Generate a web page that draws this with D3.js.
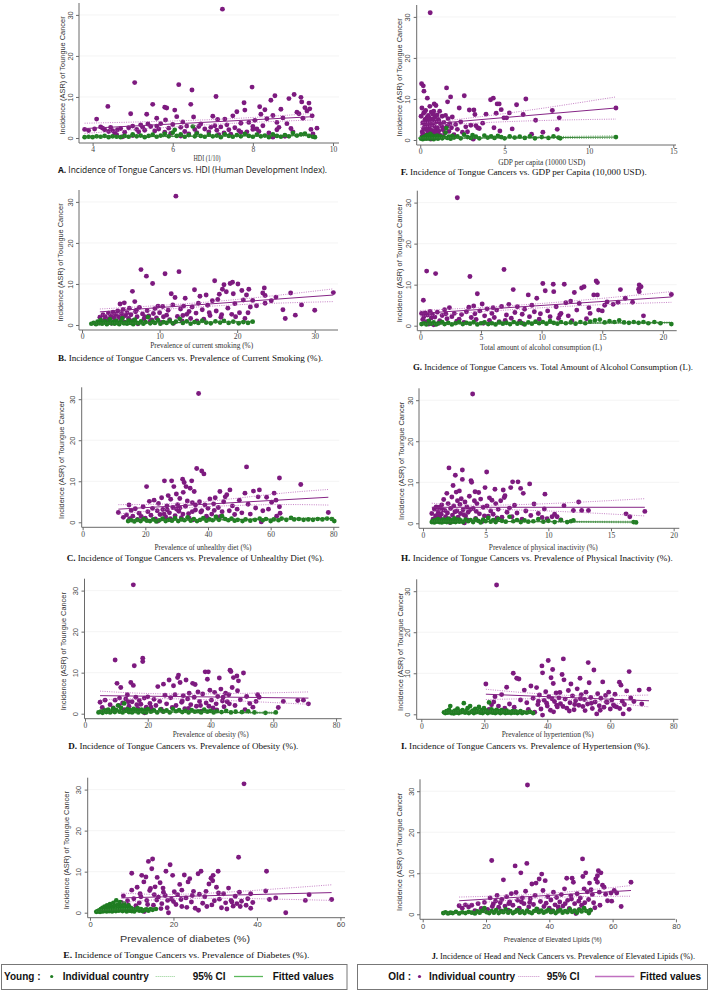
<!DOCTYPE html>
<html><head><meta charset="utf-8">
<script src="https://cdn.jsdelivr.net/npm/d3@7"></script>
<style>body{margin:0;background:#fff}</style>
</head><body>
<svg id="c" width="709" height="992"></svg>
<script>
// ---------------- DATA ----------------
const yTicks = [0, 10, 20, 30];
const ticksA = [4, 6, 8, 10], ticksF = [0, 5, 10, 15], ticksB = [0, 10, 20, 30], ticksG = [0, 5, 10, 15, 20];
const ticksC = [0, 20, 40, 60, 80], ticksH = [0, 5, 10, 15, 20], ticksD = [0, 20, 40, 60, 80], ticksI = [0, 20, 40, 60, 80];
const ticksE = [0, 20, 40, 60], ticksJ = [0, 20, 40, 60, 80];

const oldA = [[3.8,2.1],[3.9,1.8],[4.05,2.2],[4.1,4.6],[4.2,2.7],[4.25,2.4],[4.3,2.0],[4.38,7.7],[4.4,1.6],[4.45,2.6],[4.55,1.2],[4.6,0.8],[4.62,2.0],[4.7,2.3],[4.75,0.3],[4.8,1.4],[4.9,2.5],[4.95,5.9],[5.0,2.9],[5.05,13.5],[5.1,2.1],[5.15,1.5],[5.2,3.2],[5.25,2.6],[5.3,1.9],[5.35,5.8],[5.38,3.4],[5.45,2.8],[5.5,8.2],[5.55,1.7],[5.6,4.8],[5.65,2.2],[5.7,3.5],[5.8,7.5],[5.82,4.4],[5.85,7.3],[5.9,2.4],[5.95,1.1],[6.0,3.3],[6.05,6.8],[6.1,5.2],[6.15,13.0],[6.2,2.6],[6.25,3.9],[6.3,1.6],[6.35,2.9],[6.45,8.2],[6.48,11.7],[6.52,5.1],[6.55,2.1],[6.6,1.3],[6.7,3.4],[6.8,2.2],[6.9,1.5],[7.0,5.3],[7.05,3.0],[7.08,10.1],[7.1,1.9],[7.12,4.5],[7.2,2.7],[7.24,31.4],[7.28,1.2],[7.3,4.6],[7.35,3.2],[7.4,2.0],[7.5,5.4],[7.55,2.5],[7.6,6.4],[7.65,1.8],[7.7,3.6],[7.78,8.6],[7.8,6.8],[7.85,1.5],[7.9,3.8],[7.98,12.4],[8.0,2.8],[8.05,4.3],[8.1,2.2],[8.17,7.6],[8.2,5.8],[8.25,3.0],[8.3,6.9],[8.35,4.7],[8.4,1.2],[8.45,9.2],[8.5,5.5],[8.55,10.3],[8.6,3.8],[8.65,2.6],[8.7,7.0],[8.75,4.9],[8.8,0.4],[8.85,3.5],[8.9,9.6],[8.95,2.3],[9.03,10.6],[9.1,6.3],[9.15,5.9],[9.2,9.9],[9.22,8.8],[9.25,4.8],[9.3,7.4],[9.35,6.6],[9.4,8.5],[9.42,7.1],[9.45,2.1],[9.48,5.4],[9.5,1.0],[9.6,2.4],[4.5,1.8],[5.6,2.9],[5.8,1.4],[6.4,1.0],[6.65,2.8],[6.95,2.6],[7.45,0.9],[7.7,1.4],[8.0,2.1],[8.15,1.6],[8.6,2.0],[9.0,1.5],[5.0,0.6],[6.2,0.5],[7.15,0.8],[8.5,0.2]];
const youngA = [[3.8,0.2],[3.9,0.3],[4.0,0.2],[4.1,0.4],[4.2,0.3],[4.3,0.5],[4.4,0.2],[4.5,0.4],[4.6,0.3],[4.7,0.2],[4.8,0.5],[4.9,0.3],[5.0,0.9],[5.1,0.4],[5.2,0.6],[5.3,0.2],[5.4,0.5],[5.5,0.8],[5.6,0.3],[5.7,0.6],[5.8,1.0],[5.9,0.4],[6.0,1.3],[6.05,2.0],[6.1,0.5],[6.2,0.9],[6.3,0.3],[6.4,0.7],[6.5,2.8],[6.55,0.4],[6.6,1.1],[6.7,0.5],[6.8,0.3],[6.9,0.8],[7.0,0.4],[7.1,0.6],[7.2,0.2],[7.3,0.9],[7.4,0.5],[7.5,0.3],[7.6,0.7],[7.7,0.4],[7.8,1.0],[7.9,0.5],[8.0,0.3],[8.1,0.8],[8.2,0.4],[8.3,0.6],[8.4,0.2],[8.5,0.9],[8.6,0.5],[8.7,0.3],[8.8,0.7],[8.9,0.4],[9.0,1.2],[9.1,0.6],[9.2,0.9],[9.3,1.1],[9.4,0.5],[9.5,0.3],[9.55,0.2]];
const fitOldA = [[3.8,2.3,1.1,3.6],[7.0,3.9,3.3,4.5],[9.5,5.2,4.4,6.0]];
const fitYoungA = [[3.8,0.3,0.1,0.5],[7.0,0.5,0.4,0.6],[9.5,0.6,0.45,0.8]];

const oldF = [[0.05,5.8],[0.08,13.7],[0.1,7.8],[0.12,2.0],[0.15,4.2],[0.18,13.2],[0.2,6.5],[0.22,11.9],[0.25,3.1],[0.28,5.0],[0.3,1.2],[0.32,7.2],[0.35,2.6],[0.38,4.6],[0.4,0.5],[0.42,10.2],[0.45,3.5],[0.48,6.0],[0.5,1.8],[0.52,5.4],[0.55,2.9],[0.57,8.2],[0.59,31.0],[0.6,4.0],[0.62,0.2],[0.65,6.8],[0.68,2.3],[0.7,5.1],[0.72,3.7],[0.75,1.5],[0.78,4.8],[0.8,7.0],[0.82,2.0],[0.83,8.8],[0.85,3.3],[0.88,5.6],[0.9,1.0],[0.93,8.4],[0.95,4.4],[0.98,2.7],[1.0,6.1],[1.02,3.0],[1.05,1.4],[1.08,5.0],[1.1,2.2],[1.15,7.0],[1.2,3.9],[1.25,0.8],[1.3,5.8],[1.35,2.5],[1.4,4.3],[1.45,1.7],[1.5,6.0],[1.56,12.7],[1.6,3.4],[1.62,9.3],[1.65,5.2],[1.7,2.1],[1.75,4.0],[1.8,10.5],[1.85,3.0],[1.9,5.6],[2.0,1.3],[2.1,3.8],[2.2,2.6],[2.31,7.8],[2.4,4.4],[2.5,1.9],[2.61,10.8],[2.7,3.2],[2.8,2.0],[2.91,7.3],[3.0,3.6],[3.14,0.2],[3.18,7.3],[3.24,6.2],[3.3,3.5],[3.4,3.0],[3.5,2.8],[3.7,4.1],[3.9,6.3],[4.17,9.8],[4.33,10.2],[4.37,3.0],[4.5,6.5],[4.56,8.8],[4.68,8.8],[4.72,2.2],[4.8,7.4],[4.96,5.4],[5.12,5.4],[5.28,6.6],[5.45,2.7],[5.71,8.6],[6.1,6.2],[6.26,10.0],[6.6,1.4],[6.84,4.8],[7.27,1.9],[7.83,7.2],[8.12,2.6],[8.24,5.4],[11.6,7.8],[0.1,0.8],[0.2,2.8],[0.3,3.9],[0.4,5.5],[0.5,4.6],[0.6,2.4],[0.7,1.2],[0.15,1.6],[0.25,6.8],[0.35,3.0],[0.45,2.1],[0.55,4.9],[0.65,3.8],[0.75,6.3],[0.85,2.2],[0.95,1.8],[1.1,4.6],[1.2,1.1],[1.3,3.2],[1.4,2.8]];
const youngF = [[0.05,0.3],[0.1,0.5],[0.15,0.2],[0.2,0.7],[0.25,0.4],[0.3,0.9],[0.35,0.3],[0.4,1.2],[0.45,0.5],[0.5,0.8],[0.55,0.3],[0.6,1.5],[0.65,0.6],[0.7,0.4],[0.75,1.0],[0.8,0.2],[0.85,0.7],[0.9,0.5],[1.0,1.1],[1.05,0.3],[1.1,0.6],[1.2,0.9],[1.3,0.4],[1.4,0.7],[1.5,1.8],[1.55,2.9],[1.6,0.5],[1.7,0.8],[1.8,0.3],[1.9,1.0],[2.0,0.6],[2.2,0.9],[2.4,0.4],[2.6,1.3],[2.8,0.7],[3.0,0.5],[3.1,1.2],[3.3,0.8],[3.5,0.4],[3.8,1.1],[4.0,0.6],[4.2,0.9],[4.4,0.5],[4.6,1.0],[4.8,0.7],[5.0,0.4],[5.3,0.9],[5.6,0.6],[5.9,0.8],[6.2,0.5],[6.5,0.9],[6.8,0.4],[7.2,0.7],[7.6,0.5],[7.9,0.9],[8.2,0.6],[8.3,0.4],[11.6,0.7]];
const fitOldF = [[0,3.7,3.1,4.3],[1.5,4.2,3.7,4.7],[6,5.8,4.6,7.0],[11.6,7.8,5.1,10.5]];
const fitYoungF = [[0,0.4,0.3,0.6],[1.5,0.5,0.4,0.6],[11.6,0.7,0.4,1.0]];

const oldB = [[2.3,1.9],[2.5,0.5],[2.7,2.5],[2.9,1.2],[3.0,2.0],[3.2,0.8],[3.4,2.9],[3.5,1.5],[3.7,2.2],[3.8,0.4],[4.0,3.1],[4.1,1.8],[4.3,2.6],[4.4,1.0],[4.6,3.4],[4.7,2.0],[4.9,5.1],[5.0,1.4],[5.1,2.8],[5.3,3.8],[5.45,5.4],[5.5,0.7],[5.6,2.3],[5.8,3.0],[6.0,1.6],[6.1,4.1],[6.3,2.5],[6.5,8.2],[6.6,1.1],[6.8,5.7],[6.9,3.2],[7.1,2.0],[7.2,0.3],[7.4,4.3],[7.6,13.5],[7.8,2.7],[8.0,1.5],[8.3,11.9],[8.4,3.5],[8.6,2.2],[8.8,0.9],[9.1,10.1],[9.2,2.8],[9.4,4.0],[9.6,1.7],[9.8,4.6],[10.0,3.0],[10.2,0.6],[10.4,4.5],[10.7,12.5],[10.9,2.4],[11.1,3.6],[11.3,1.3],[11.5,7.6],[11.7,4.9],[11.99,6.7],[12.1,31.4],[12.3,2.1],[12.5,13.0],[12.7,3.9],[12.9,1.0],[13.1,4.6],[13.3,6.5],[13.5,2.6],[13.8,3.3],[14.0,1.6],[14.2,4.4],[14.5,8.6],[14.7,2.9],[15.0,5.3],[15.2,7.0],[15.5,3.7],[15.7,1.4],[16.0,7.3],[16.2,4.8],[16.5,2.3],[16.8,5.9],[17.1,10.8],[17.3,3.4],[17.5,6.2],[17.7,7.5],[17.9,1.9],[18.1,8.7],[18.3,9.8],[18.6,8.1],[18.8,4.1],[19.1,10.1],[19.3,2.6],[19.4,10.4],[19.5,7.6],[19.7,5.2],[20.1,10.0],[20.3,3.0],[20.6,8.4],[20.8,6.1],[21.0,1.6],[21.2,7.3],[21.5,8.7],[21.7,4.4],[22.0,6.0],[22.5,4.7],[23.3,7.8],[23.5,9.0],[23.6,7.2],[23.6,5.3],[24.4,5.9],[25.0,6.8],[25.9,3.7],[26.2,1.6],[26.9,7.8],[27.5,2.4],[28.3,4.9],[30.0,3.6],[32.4,7.9],[4.2,0.9],[5.2,1.9],[6.2,0.9],[7.0,3.6],[8.1,2.0],[9.0,1.2],[10.5,2.0],[11.8,0.4],[13.0,2.3],[14.8,1.0],[16.4,3.0],[18.0,2.5],[19.8,2.0],[21.4,3.0]];
const youngB = [[1.2,0.3],[1.5,0.5],[1.8,0.2],[2.0,0.8],[2.2,0.4],[2.4,1.2],[2.6,0.3],[2.8,0.6],[3.0,0.9],[3.2,0.2],[3.4,0.5],[3.6,1.4],[3.8,0.4],[4.0,0.7],[4.2,0.3],[4.4,1.0],[4.6,0.5],[4.8,0.2],[5.0,0.8],[5.2,1.6],[5.4,0.4],[5.6,0.6],[5.8,0.3],[6.0,1.1],[6.2,0.5],[6.4,0.8],[6.6,0.2],[6.8,1.3],[7.0,0.6],[7.3,0.4],[7.6,0.9],[7.9,0.3],[8.2,0.7],[8.5,1.9],[8.8,0.4],[9.1,0.8],[9.4,0.5],[9.8,1.2],[10.1,0.3],[10.5,0.7],[10.9,0.5],[11.3,1.0],[11.7,0.4],[12.1,0.8],[12.6,1.5],[13.0,0.5],[13.5,0.9],[14.0,0.3],[14.5,0.7],[15.0,0.5],[15.5,1.1],[16.0,0.6],[16.6,0.4],[17.2,0.9],[17.8,0.6],[18.3,1.0],[18.9,0.5],[19.5,0.8],[20.2,0.4],[20.8,0.7],[21.4,0.5],[22.0,0.8]];
const fitOldB = [[2.3,3.2,2.4,3.9],[12,4.5,4.0,5.0],[22,5.9,5.1,6.6],[32.4,7.3,5.7,8.8]];
const fitYoungB = [[1.2,0.35,0.2,0.5],[10,0.5,0.45,0.6],[22,0.8,0.65,0.95]];

const oldG = [[0.1,3.0],[0.2,1.5],[0.25,6.2],[0.3,2.2],[0.4,3.1],[0.5,1.0],[0.52,13.3],[0.6,2.6],[0.7,0.4],[0.8,3.5],[0.9,1.9],[1.0,2.8],[1.1,0.2],[1.2,2.1],[1.26,12.7],[1.4,3.3],[1.6,1.2],[1.8,2.5],[2.0,3.9],[2.2,1.7],[2.4,4.4],[2.6,2.2],[2.8,3.0],[3.05,31.2],[3.2,1.6],[3.4,2.7],[3.6,0.8],[3.8,3.4],[4.0,4.5],[4.09,12.0],[4.2,2.0],[4.4,4.8],[4.6,1.5],[4.7,7.8],[4.9,3.6],[5.1,5.3],[5.3,2.4],[5.5,4.1],[5.7,1.3],[5.9,3.0],[6.1,2.0],[6.3,3.8],[6.5,1.0],[6.7,4.7],[6.9,13.7],[7.1,2.6],[7.3,5.2],[7.5,1.8],[7.66,8.8],[7.8,3.2],[8.0,4.6],[8.2,1.1],[8.4,2.8],[8.6,4.0],[8.9,7.5],[9.0,2.2],[9.2,5.0],[9.4,3.4],[9.6,6.7],[9.8,1.6],[10.1,10.3],[10.3,8.5],[10.5,3.6],[10.7,2.2],[10.96,10.1],[11.0,8.3],[11.2,4.6],[11.4,1.8],[11.6,3.0],[11.87,10.1],[12.0,5.6],[12.2,2.4],[12.4,6.0],[12.7,8.1],[12.9,3.8],[13.1,5.4],[13.3,9.2],[13.5,9.5],[13.7,1.7],[14.0,3.0],[14.3,7.5],[14.5,10.9],[14.6,10.5],[14.6,7.5],[14.7,3.8],[15.0,3.6],[15.2,5.0],[15.4,5.8],[15.9,5.2],[16.3,5.7],[16.5,8.8],[16.9,6.7],[17.5,5.7],[18.0,8.9],[18.05,9.9],[18.2,9.5],[18.05,8.3],[18.4,2.4],[20.7,7.6],[1.5,0.6],[2.1,2.9],[3.0,1.1],[4.5,2.9],[5.2,0.6],[6.0,4.4],[7.0,1.3],[8.5,0.5],[9.9,2.9],[11.5,2.6],[12.5,1.2],[13.9,4.4]];
const youngG = [[0.1,0.4],[0.3,0.6],[0.5,0.3],[0.7,1.2],[0.9,0.5],[1.1,0.8],[1.3,0.3],[1.5,0.6],[1.8,0.9],[2.0,0.4],[2.3,0.7],[2.6,0.3],[2.9,0.6],[3.2,0.9],[3.5,0.4],[3.8,0.7],[4.1,0.5],[4.4,0.9],[4.7,0.3],[5.0,0.6],[5.3,0.8],[5.6,0.4],[5.9,0.6],[6.2,0.3],[6.5,0.8],[6.8,0.5],[7.1,0.7],[7.4,0.4],[7.7,0.9],[8.0,0.5],[8.3,0.7],[8.6,0.3],[8.9,0.8],[9.2,0.5],[9.5,1.0],[9.8,0.6],[10.1,0.9],[10.4,0.5],[10.7,1.1],[11.0,0.7],[11.3,0.5],[11.6,0.9],[12.0,0.6],[12.4,0.8],[12.8,0.5],[13.2,0.9],[13.6,0.6],[14.0,1.0],[14.4,1.3],[14.8,1.5],[15.2,0.8],[15.6,1.1],[16.0,0.9],[16.4,1.3],[16.8,0.8],[17.2,0.7],[17.6,0.9],[18.0,0.7],[18.4,0.9],[18.8,0.6],[19.3,0.9],[19.8,0.6],[20.7,0.4]];
const fitOldG = [[0,3.0,2.3,3.7],[7,4.3,3.8,4.8],[14,5.7,5.0,6.4],[20.7,7.0,5.7,8.3]];
const fitYoungG = [[0,0.4,0.3,0.5],[10,0.6,0.55,0.65],[20.7,0.75,0.6,0.9]];

const oldC = [[11.4,2.4],[13.0,1.2],[14.0,1.8],[14.8,4.2],[15.0,0.9],[15.5,2.9],[16.0,1.5],[16.8,3.3],[17.5,0.7],[18.0,2.2],[18.7,1.4],[19.3,3.8],[20.0,1.0],[20.4,8.7],[20.8,2.6],[21.3,5.1],[21.8,1.7],[22.3,3.4],[22.8,5.4],[23.2,0.8],[23.8,2.8],[24.2,4.6],[24.7,1.9],[25.2,6.0],[25.6,3.1],[26.1,10.1],[26.5,1.3],[26.9,4.0],[27.3,6.5],[27.7,2.3],[28.1,5.6],[28.4,10.1],[28.8,3.6],[29.1,8.7],[29.5,1.6],[29.9,6.9],[30.3,4.3],[30.7,2.7],[31.0,5.8],[31.5,1.1],[31.9,10.5],[32.1,7.3],[32.4,9.7],[32.8,3.9],[33.0,8.7],[33.4,5.2],[33.8,2.1],[34.3,8.3],[34.8,10.1],[35.0,4.8],[35.3,0.6],[35.6,7.5],[36.0,3.0],[36.4,13.1],[37.0,31.4],[37.3,5.0],[37.7,2.5],[38.0,12.5],[38.7,11.8],[39.0,4.2],[39.5,1.5],[40.0,3.4],[40.6,5.7],[41.2,2.0],[41.8,4.5],[42.3,6.0],[42.8,1.3],[43.3,3.6],[43.8,7.5],[44.5,2.6],[45.0,5.0],[45.5,6.2],[46.0,6.7],[46.8,2.8],[47.0,7.9],[47.8,4.0],[48.5,1.9],[49.3,3.2],[50.0,5.4],[50.8,2.3],[51.8,7.1],[52.3,13.5],[52.8,4.4],[53.5,2.0],[54.5,7.6],[55.2,3.5],[56.0,6.2],[56.4,7.9],[57.0,0.1],[57.5,2.8],[58.7,6.1],[59.3,3.2],[60.3,4.9],[61.1,7.1],[61.7,5.4],[61.9,1.5],[62.8,3.8],[62.8,10.8],[63.0,2.2],[69.6,9.2],[78.4,2.4],[24.0,0.3],[26.0,2.0],[28.0,0.9],[30.0,3.2],[32.0,2.0],[34.0,1.0],[36.0,4.2],[38.0,2.8],[40.0,0.9],[42.0,2.9],[44.0,1.4],[27.0,3.0],[31.0,3.5],[35.0,2.6]];
const youngC = [[14.5,0.3],[15.5,0.5],[16.5,0.2],[17.5,0.6],[18.5,0.3],[19.5,0.8],[20.5,0.4],[21.5,0.3],[22.5,0.7],[23.5,0.2],[24.5,0.5],[25.5,0.9],[26.5,0.3],[27.5,0.6],[28.5,0.4],[29.5,1.0],[30.5,0.3],[31.5,0.7],[32.5,0.5],[33.5,1.2],[34.5,0.4],[35.5,0.8],[36.5,0.3],[37.5,0.6],[38.5,1.0],[39.5,0.4],[40.5,0.7],[41.5,0.5],[42.5,1.3],[43.5,0.6],[44.5,1.5],[45.5,0.8],[46.5,0.5],[47.5,0.9],[48.5,0.4],[49.5,0.6],[51.0,0.3],[52.0,0.7],[53.5,0.4],[55.0,0.6],[56.5,0.9],[57.5,0.5],[58.5,0.8],[60.0,0.3],[61.0,0.7],[62.5,0.5],[63.5,0.9],[65.0,0.6],[66.5,1.1],[67.5,0.7],[69.0,0.8],[70.5,0.6],[72.0,0.7],[73.5,0.6],[75.0,0.8],[76.5,0.7],[78.0,0.9],[79.5,0.8],[80.3,0.3]];
const fitOldC = [[11.4,3.2,2.0,4.3],[35,4.2,3.6,4.8],[60,5.3,4.3,6.8],[78.4,6.1,4.2,8.0]];
const fitYoungC = [[14.5,0.35,0.2,0.5],[40,0.6,0.5,0.7],[80.3,0.95,0.7,1.2]];

const oldH = [[0.7,2.4],[0.8,1.0],[0.9,3.5],[1.0,1.8],[1.05,4.0],[1.1,0.6],[1.2,2.9],[1.3,3.9],[1.35,1.4],[1.45,2.2],[1.5,4.5],[1.6,0.8],[1.65,5.8],[1.75,3.1],[1.8,1.6],[1.9,7.3],[1.95,2.5],[2.0,4.8],[2.07,13.5],[2.1,1.1],[2.2,3.6],[2.3,6.4],[2.35,2.0],[2.4,9.2],[2.45,4.2],[2.5,0.5],[2.58,11.7],[2.65,7.6],[2.7,3.0],[2.75,5.5],[2.8,1.5],[2.9,7.9],[2.95,4.6],[3.0,2.4],[3.05,6.0],[3.14,13.0],[3.14,10.7],[3.2,3.3],[3.3,0.1],[3.35,5.2],[3.4,1.8],[3.5,4.0],[3.6,2.7],[3.7,6.6],[3.83,10.4],[3.88,10.0],[3.96,31.5],[4.0,3.6],[4.1,5.5],[4.15,7.7],[4.2,1.2],[4.3,4.8],[4.44,7.5],[4.5,2.3],[4.6,5.9],[4.7,0.4],[4.8,3.9],[4.95,8.7],[5.08,12.5],[5.1,4.2],[5.2,1.7],[5.3,6.2],[5.4,3.0],[5.5,5.6],[5.6,2.2],[5.74,8.3],[5.8,4.8],[5.9,1.3],[6.0,3.4],[6.2,5.5],[6.4,8.1],[6.48,6.3],[6.54,6.7],[6.7,2.7],[6.9,3.7],[7.0,8.7],[7.1,1.6],[7.15,10.1],[7.3,4.4],[7.5,2.5],[7.58,10.1],[7.79,8.5],[7.9,1.0],[8.0,7.3],[8.2,3.0],[8.51,9.6],[8.6,1.9],[8.86,4.7],[9.2,2.4],[9.5,1.4],[9.68,3.5],[9.73,7.1],[9.9,1.1],[10.3,1.6],[10.5,2.2],[10.7,1.6],[11.0,0.8],[11.25,4.3],[12.0,3.1],[12.42,5.2],[12.66,3.1],[13.2,3.1],[16.2,2.3],[16.5,1.6],[17.7,2.9],[1.15,2.0],[1.55,3.3],[2.15,0.2],[2.55,2.8],[2.85,0.9],[3.25,2.1],[3.55,0.8],[3.75,3.3],[4.25,2.9],[4.9,1.8],[5.7,0.7],[6.3,1.5]];
const youngH = [[0.7,0.3],[0.8,0.6],[0.9,0.2],[1.0,0.8],[1.1,0.4],[1.2,1.0],[1.3,0.3],[1.4,0.6],[1.5,0.2],[1.6,0.9],[1.7,0.4],[1.8,0.7],[1.9,0.3],[2.0,1.1],[2.1,0.5],[2.2,0.2],[2.3,0.8],[2.4,0.4],[2.5,1.2],[2.6,0.3],[2.7,0.6],[2.8,0.9],[2.9,0.4],[3.0,0.7],[3.2,0.3],[3.4,0.9],[3.6,0.5],[3.8,0.8],[4.0,0.3],[4.2,1.0],[4.4,0.6],[4.6,0.2],[4.8,0.9],[5.0,0.5],[5.2,1.3],[5.4,0.4],[5.6,0.8],[5.8,0.3],[6.0,1.1],[6.3,0.6],[6.6,0.4],[6.9,1.6],[7.2,0.5],[7.5,0.8],[7.8,0.3],[8.1,0.7],[8.4,0.4],[8.8,0.5],[9.2,1.0],[9.6,0.4],[10.0,0.6],[10.5,0.3],[11.0,0.8],[11.5,0.3],[11.8,0.5],[12.0,0.7],[16.8,0.3],[17.0,0.2]];
const fitOldH = [[0.7,3.9,2.9,4.9],[4,3.9,3.4,4.4],[10,3.9,3.0,4.8],[17.7,3.9,1.8,6.0]];
const fitYoungH = [[0.7,0.5,0.4,0.6],[5,0.45,0.4,0.5],[17,0.3,0.1,0.5]];

const oldD = [[4.8,2.8],[5.5,1.5],[6.4,3.3],[7.0,0.8],[8.0,2.2],[9.0,1.4],[9.6,13.1],[9.6,3.3],[10.2,7.4],[10.8,2.0],[11.4,6.4],[12.0,2.6],[12.5,1.0],[13.0,3.6],[13.5,4.6],[14.0,1.8],[14.6,7.6],[15.0,2.9],[15.4,31.4],[15.4,6.9],[15.7,11.7],[16.2,4.0],[16.8,1.3],[17.3,3.2],[17.8,2.3],[18.4,13.5],[18.4,12.7],[18.9,3.8],[19.5,1.6],[20.0,4.1],[20.7,2.5],[21.4,0.9],[22.0,3.5],[22.6,2.0],[23.2,6.6],[23.8,3.0],[24.3,1.1],[25.0,7.2],[25.5,4.5],[26.0,2.4],[26.8,8.2],[27.3,3.9],[27.8,1.5],[28.2,6.8],[28.7,4.6],[29.5,8.8],[29.8,9.4],[30.3,7.6],[30.8,2.8],[31.3,4.4],[31.8,1.2],[32.2,8.2],[32.7,3.6],[33.2,5.0],[33.7,2.2],[34.3,7.4],[34.8,4.0],[35.1,7.1],[35.5,1.8],[36.0,5.3],[36.5,3.0],[37.0,0.6],[37.5,4.8],[38.3,10.2],[38.6,2.6],[39.0,8.4],[39.3,10.2],[39.8,5.7],[40.3,3.3],[40.8,1.4],[41.3,5.2],[41.8,2.4],[42.3,4.2],[42.8,8.7],[43.3,6.0],[43.8,3.1],[44.3,1.7],[44.8,5.0],[45.3,2.9],[45.8,4.6],[46.2,10.6],[46.5,10.3],[46.9,6.4],[47.3,8.8],[47.8,2.0],[48.4,9.2],[48.6,5.6],[48.9,8.0],[49.5,3.4],[50.5,9.9],[51.0,1.0],[51.5,4.2],[52.5,2.5],[53.5,1.6],[54.5,3.0],[55.0,4.6],[55.5,4.0],[61.6,1.5],[63.2,3.0],[67.8,3.2],[69.6,3.3],[71.2,2.4],[11.0,3.8],[13.8,2.9],[16.5,2.2],[19.0,0.2],[21.0,1.6],[24.8,0.6],[29.0,2.0],[31.0,3.1],[33.0,1.3],[36.8,2.0],[39.5,1.8],[42.0,0.9],[44.0,4.0],[46.0,2.4]];
const youngD = [[4.3,0.3],[5.0,0.5],[5.6,0.2],[6.2,0.8],[6.8,0.4],[7.4,1.0],[8.0,0.3],[8.5,0.6],[9.0,1.3],[9.5,0.4],[10.0,0.9],[10.5,2.0],[11.0,0.5],[11.5,1.4],[12.0,0.3],[12.5,2.5],[13.0,0.7],[13.5,1.1],[14.0,0.4],[14.5,0.9],[15.0,0.3],[15.5,1.2],[16.0,0.6],[16.5,0.9],[17.0,0.3],[17.5,0.7],[18.0,1.0],[18.5,0.4],[19.0,0.8],[19.5,0.3],[20.0,1.1],[21.0,0.5],[22.0,0.8],[23.0,0.3],[24.0,1.0],[25.0,0.5],[26.0,0.8],[27.0,0.3],[28.0,1.2],[29.0,0.6],[30.0,0.9],[31.0,0.4],[32.0,0.7],[33.0,0.3],[34.0,0.9],[35.0,0.5],[36.0,0.6],[37.0,0.3],[38.0,1.0],[39.0,0.5],[40.0,0.7],[41.0,0.3],[42.0,0.6],[43.5,0.4],[45.0,0.7],[46.5,0.3],[48.0,0.5],[50.0,0.4],[52.0,0.6],[54.0,0.3],[57.5,0.2],[60.8,0.3]];
const fitOldD = [[4.8,4.4,3.4,5.5],[30,4.2,3.6,4.8],[71.2,3.8,2.3,5.3]];
const fitYoungD = [[4.3,0.55,0.4,0.7],[25,0.45,0.4,0.5],[60.8,0.2,0.0,0.4]];

const oldI = [[20.5,7.4],[21.5,1.2],[22.3,2.3],[23.0,3.0],[23.4,4.3],[23.9,31.5],[24.5,2.0],[25.5,4.8],[26.5,1.5],[27.1,6.6],[28.0,2.5],[29.2,10.0],[29.5,1.7],[30.3,8.8],[31.0,8.6],[31.5,3.5],[32.7,5.9],[33.5,2.8],[34.0,1.2],[34.8,6.9],[35.5,3.9],[36.0,0.5],[36.6,6.5],[37.0,2.4],[37.5,4.7],[38.0,1.3],[38.3,11.8],[38.5,10.1],[38.5,-0.2],[39.0,3.4],[39.5,5.5],[40.0,2.0],[40.3,13.1],[40.5,4.3],[41.0,1.0],[41.2,8.9],[41.7,10.9],[41.9,7.5],[42.3,3.1],[42.8,5.2],[43.2,1.8],[43.7,4.0],[44.2,2.6],[44.7,9.7],[45.1,13.5],[45.3,8.4],[45.7,3.7],[46.2,1.5],[46.7,5.8],[47.2,2.8],[47.5,7.4],[48.0,4.5],[48.5,1.1],[49.0,3.3],[49.5,6.2],[50.0,2.2],[50.4,8.8],[50.8,4.8],[51.3,1.9],[51.8,3.6],[52.3,5.4],[52.8,2.5],[53.0,12.6],[53.3,7.7],[53.8,4.1],[54.3,1.4],[54.8,10.8],[55.2,3.0],[55.7,0.1],[56.0,5.0],[56.5,2.1],[57.0,3.9],[57.6,7.9],[58.0,1.7],[58.5,4.6],[59.0,2.9],[59.5,5.4],[60.0,1.3],[60.5,3.5],[61.0,2.3],[61.5,4.9],[62.0,1.8],[62.9,7.8],[63.4,7.1],[63.8,3.2],[64.1,0.1],[64.5,2.4],[65.2,5.7],[66.0,10.4],[66.0,1.2],[66.5,4.0],[67.5,3.1],[69.2,5.9],[70.0,2.5],[72.3,6.1],[37.2,3.2],[39.8,2.7],[42.0,0.6],[43.0,2.2],[45.0,1.9],[47.0,0.8],[48.7,2.4],[50.5,3.8],[52.0,0.9],[54.0,2.7],[56.8,1.0],[58.8,3.0],[61.3,2.0],[63.0,1.4],[44.0,5.3],[41.5,3.8]];
const youngI = [[7.2,0.5],[7.6,0.3],[8.0,0.8],[8.4,0.4],[8.8,1.1],[9.2,2.0],[9.5,0.3],[9.9,0.6],[10.3,0.2],[10.7,0.9],[11.1,0.4],[11.5,1.4],[11.9,0.3],[12.3,0.7],[12.7,0.5],[13.1,1.0],[13.5,2.7],[13.9,0.4],[14.3,0.8],[14.7,1.5],[15.1,0.3],[15.5,2.0],[15.9,0.6],[16.3,0.9],[16.7,0.3],[17.1,1.3],[17.5,0.5],[17.9,0.8],[18.3,1.8],[18.7,0.4],[19.1,1.0],[19.5,0.3],[19.9,1.5],[20.3,0.6],[20.7,0.9],[21.1,0.3],[21.5,2.9],[21.9,0.5],[22.3,1.2],[22.7,0.4],[23.1,0.8],[23.5,0.3],[23.9,1.1],[24.3,0.5],[24.7,0.8],[25.1,0.3],[25.5,1.0],[25.9,0.5],[26.3,0.7],[26.7,0.3],[27.1,0.9],[27.5,0.4],[28.0,0.6],[28.5,0.3],[29.0,0.8],[29.5,0.4],[30.0,0.7],[30.5,0.3],[31.0,0.5],[31.5,0.8],[32.0,0.3],[32.5,0.5],[33.5,0.4],[34.5,0.6],[35.5,0.3]];
const fitOldI = [[20.5,4.9,3.6,6.1],[47,4.1,3.6,4.6],[72.3,3.3,1.8,4.7]];
const fitYoungI = [[7.2,0.6,0.4,0.8],[20,0.7,0.6,0.8],[35.5,0.6,0.4,0.8]];

const oldE = [[7.5,2.5],[8.0,4.1],[8.5,1.3],[9.0,2.9],[9.5,0.8],[10.0,9.6],[10.0,5.5],[10.5,3.4],[11.0,1.7],[11.3,6.2],[11.8,2.4],[12.0,4.6],[12.4,9.1],[12.9,7.5],[13.0,0.3],[13.4,8.7],[13.6,3.0],[14.0,12.5],[14.3,5.4],[14.8,10.7],[15.0,13.1],[15.2,1.8],[15.6,6.3],[16.1,8.6],[16.4,3.8],[16.8,7.3],[17.2,2.2],[17.6,5.0],[18.0,4.2],[18.2,10.1],[18.5,1.2],[18.8,0.0],[19.2,11.7],[19.5,3.3],[19.8,9.1],[20.2,5.1],[20.6,2.0],[21.0,4.4],[21.5,6.9],[22.0,1.5],[22.6,9.2],[23.0,3.6],[23.5,7.5],[23.9,8.3],[24.3,2.6],[24.8,5.2],[25.2,1.1],[25.9,9.5],[26.2,4.5],[26.6,10.1],[27.0,2.3],[27.5,3.9],[28.0,1.5],[28.5,7.0],[29.0,8.4],[29.4,7.8],[29.5,9.1],[29.8,2.9],[30.3,6.2],[30.7,10.1],[31.0,3.3],[31.5,1.2],[32.0,4.6],[32.5,2.4],[33.2,6.0],[33.8,3.0],[34.3,1.6],[34.8,4.0],[35.2,2.2],[35.6,13.5],[35.8,5.0],[36.3,2.8],[36.9,31.4],[37.4,1.8],[37.8,3.4],[38.5,1.1],[38.5,4.6],[39.0,2.5],[42.1,5.3],[42.3,10.1],[43.0,3.2],[44.5,3.6],[46.9,0.0],[51.6,3.0],[52.5,4.4],[57.9,3.2],[9.2,1.8],[10.8,0.9],[12.2,3.9],[13.8,2.0],[15.4,4.4],[17.0,1.0],[18.6,3.0],[20.0,2.7],[21.8,3.2],[23.2,1.3],[24.5,4.2],[26.0,0.6],[27.8,5.2],[29.2,1.9],[30.8,4.8],[32.8,0.9],[34.0,2.6],[36.0,1.5],[17.5,6.0],[22.0,5.5],[14.5,5.9],[16.0,3.1]];
const youngE = [[1.5,0.2],[1.8,0.4],[2.0,0.3],[2.2,0.6],[2.4,0.2],[2.6,0.9],[2.8,0.4],[3.0,1.2],[3.1,0.3],[3.3,0.7],[3.5,1.5],[3.6,0.5],[3.8,1.0],[4.0,0.3],[4.1,1.8],[4.3,0.6],[4.5,1.3],[4.6,0.4],[4.8,2.1],[5.0,0.8],[5.1,1.5],[5.3,0.3],[5.5,1.1],[5.6,2.4],[5.8,0.6],[6.0,1.7],[6.2,0.4],[6.3,3.0],[6.5,0.9],[6.7,2.0],[6.9,0.5],[7.0,1.3],[7.2,2.6],[7.4,0.7],[7.6,1.6],[7.8,0.4],[8.0,1.0],[8.2,2.2],[8.4,0.6],[8.6,1.3],[8.8,0.3],[9.0,0.9],[9.2,1.8],[9.5,0.5],[9.8,1.2],[10.0,0.4],[10.3,0.8],[10.6,0.3],[11.0,0.7],[11.4,1.1],[11.8,0.5],[12.2,0.9],[12.6,0.4],[13.0,0.6],[13.5,0.8],[14.0,0.5],[14.5,0.9],[15.0,0.7],[15.8,0.9]];
const fitOldE = [[7.5,3.6,2.4,4.8],[25,4.0,3.5,4.6],[57.9,4.9,3.0,6.8]];
const fitYoungE = [[1.5,0.5,0.3,0.7],[7,0.85,0.75,0.95],[15.8,1.0,0.7,1.3]];

const oldJ = [[11.5,2.1],[12.5,1.5],[13.5,2.3],[14.5,1.8],[15.5,2.2],[16.5,0.9],[17.5,2.6],[18.5,1.4],[19.5,2.9],[20.5,1.2],[21.3,4.0],[21.8,13.1],[22.3,2.5],[23.0,3.2],[23.5,4.6],[24.0,1.7],[24.5,2.8],[25.5,8.4],[25.0,3.6],[26.0,2.0],[26.5,4.3],[27.0,1.0],[27.5,3.0],[28.0,5.0],[28.5,2.2],[29.2,11.8],[29.5,5.3],[30.0,3.4],[30.5,1.5],[31.0,10.1],[31.5,4.0],[32.0,2.6],[32.5,5.6],[32.9,12.4],[33.1,31.5],[33.5,1.8],[34.0,3.8],[34.5,7.4],[35.0,2.4],[35.5,4.6],[35.8,7.6],[36.2,1.2],[36.8,8.6],[37.2,3.1],[37.6,9.8],[38.0,5.8],[38.7,8.2],[39.0,2.7],[39.5,4.3],[40.0,1.5],[40.5,3.5],[40.8,0.6],[41.3,5.4],[41.8,2.3],[42.3,4.1],[42.8,1.8],[43.3,3.0],[43.8,4.8],[44.3,2.0],[44.8,6.2],[45.5,8.8],[45.8,3.4],[46.3,1.4],[46.8,4.5],[47.2,8.8],[47.6,7.8],[48.0,2.6],[48.4,0.2],[48.8,5.0],[49.3,3.2],[49.8,4.0],[50.2,2.2],[50.5,13.5],[50.6,9.2],[51.0,6.2],[51.5,10.1],[52.0,5.5],[52.4,3.6],[52.7,7.6],[53.2,6.0],[53.6,4.8],[54.0,2.8],[54.4,1.6],[54.7,8.6],[55.2,9.4],[55.2,7.8],[55.5,10.6],[55.8,5.4],[56.3,10.1],[56.8,7.1],[57.3,6.6],[57.8,4.9],[58.4,3.3],[59.5,5.2],[59.7,3.2],[60.5,5.8],[61.3,5.2],[62.7,1.9],[65.8,7.8],[19.0,1.0],[22.0,1.9],[24.8,0.8],[27.2,2.6],[29.8,1.0],[31.2,3.0],[33.8,2.9],[36.5,0.8],[38.3,1.9],[41.0,0.9],[43.0,1.2],[45.0,2.6],[47.0,3.7],[49.5,1.2],[51.2,2.8],[53.0,1.0],[56.0,2.2]];
const youngJ = [[6.5,0.3],[7.2,0.5],[8.0,0.2],[8.8,0.4],[9.5,0.3],[10.5,0.6],[11.5,0.2],[12.5,0.5],[13.5,0.3],[14.5,0.6],[15.5,0.4],[16.5,0.2],[17.3,0.7],[18.0,0.4],[18.8,0.9],[19.5,1.5],[20.2,0.5],[21.0,0.3],[21.8,0.8],[22.5,0.4],[23.2,1.0],[24.0,0.3],[24.7,0.7],[25.5,0.5],[26.2,1.2],[27.0,0.4],[27.7,0.8],[28.5,0.3],[29.2,0.6],[30.0,1.0],[30.7,0.4],[31.5,0.7],[32.2,0.3],[33.0,0.9],[33.7,0.5],[34.5,0.3],[35.2,0.8],[36.0,1.3],[36.7,0.5],[37.5,0.9],[38.2,0.4],[39.0,0.7],[39.7,1.1],[40.5,0.5],[41.2,0.8],[42.0,0.3],[42.7,0.7],[43.5,1.0],[44.2,0.4],[45.0,0.8],[45.7,0.5],[46.5,1.2],[47.2,0.6],[48.0,0.9],[48.7,0.4],[49.5,1.1],[50.2,0.7],[51.0,1.5],[51.7,0.8],[52.5,0.3],[53.0,1.0]];
const fitOldJ = [[11.5,3.3,2.3,4.2],[38,4.5,4.0,5.0],[65.8,5.8,4.4,7.0]];
const fitYoungJ = [[6.5,0.35,0.2,0.5],[30,0.55,0.5,0.6],[53,0.75,0.6,0.9]];

const yTitle = "Incidence (ASR) of Toungue Cancer";
const xTitles = {A:"HDI (1/10)", F:"GDP per capita (10000 USD)", B:"Prevalence of current smoking (%)", G:"Total amount of alcohol consumption (L)", C:"Prevalence of unhealthy diet (%)", H:"Prevalence of physical inactivity (%)", D:"Prevalence of obesity (%)", I:"Prevalence of hypertention (%)", E:"Prevalence of diabetes (%)", J:"Prevalence of Elevated Lipids (%)"};
const captions = {A:"Incidence of Tongue Cancers vs. HDI (Human Development Index).", F:"Incidence of Tongue Cancers vs. GDP per Capita (10,000 USD).", B:"Incidence of Tongue Cancers vs. Prevalence of Current Smoking (%).", G:"Incidence of Tongue Cancers vs. Total Amount of Alcohol Consumption (L).", C:"Incidence of Tongue Cancers vs. Prevalence of Unhealthy Diet (%).", H:"Incidence of Tongue Cancers vs. Prevalence of Physical Inactivity (%).", D:"Incidence of Tongue Cancers vs. Prevalence of Obesity (%).", I:"Incidence of Tongue Cancers vs. Prevalence of Hypertension (%).", E:"Incidence of Tongue Cancers vs. Prevalence of Diabetes (%).", J:"Incidence of Head and Neck Cancers vs. Prevalence of Elevated Lipids (%)."};
const legendGroups = ["Young :", "Old :"];
const legendLabels = ["Individual country", "95% CI", "Fitted values"];

// ---------------- LAYOUT ----------------
const C_OLD = "#7d1a7f", C_YOUNG = "#1f7d22";
const SERIF = "'Liberation Serif','Times New Roman',serif";
const SANS = "'Liberation Sans',Arial,Helvetica,sans-serif";
const panels = [
 {k:"A", old:oldA, young:youngA, fo:fitOldA, fy:fitYoungA, ticks:ticksA, L:79, R:339, B:143, dom:[3.66,10.15], ytx:62, xtx:207, xty:161, xtw:27, cap:[58,327,173], capSans:true},
 {k:"F", old:oldF, young:youngF, fo:fitOldF, fy:fitYoungF, ticks:ticksF, L:416.7, R:676, B:145, dom:[-0.21,15.16], ytx:399.3, xtx:541.7, xty:164.5, xtw:87, cap:[400.7,646.7,175.3]},
 {k:"B", old:oldB, young:youngB, fo:fitOldB, fy:fitYoungB, ticks:ticksB, L:79, R:338, B:330, dom:[-0.39,33.0], ytx:60.7, xtx:201.7, xty:348, xtw:103, cap:[58,323,361.3]},
 {k:"G", old:oldG, young:youngG, fo:fitOldG, fy:fitYoungG, ticks:ticksG, L:417.3, R:676.7, B:330.7, dom:[-0.25,21.14], ytx:399.3, xtx:541, xty:349.5, xtw:122, cap:[413,693,369.7]},
 {k:"C", old:oldC, young:youngC, fo:fitOldC, fy:fitYoungC, ticks:ticksC, L:81.7, R:339.3, B:527.3, dom:[-0.3,81.9], ytx:61.7, xtx:203, xty:549.5, xtw:97, cap:[66.7,324,561.3]},
 {k:"H", old:oldH, young:youngH, fo:fitOldH, fy:fitYoungH, ticks:ticksH, L:419, R:679.3, B:528.3, dom:[-0.32,20.45], ytx:401, xtx:543.3, xty:550, xtw:109, cap:[401,672.7,561.3]},
 {k:"D", old:oldD, young:youngD, fo:fitOldD, fy:fitYoungD, ticks:ticksD, L:84.5, R:341.7, B:718.7, dom:[-0.16,81.8], ytx:63.3, xtx:210.7, xty:736.5, xtw:76, cap:[68.3,298.3,749]},
 {k:"I", old:oldI, young:youngI, fo:fitOldI, fy:fitYoungI, ticks:ticksI, L:416.7, R:678.3, B:719.3, dom:[-1.46,81.6], ytx:400, xtx:547.7, xty:737.2, xtw:92, cap:[401,650,748.7]},
 {k:"E", old:oldE, young:youngE, fo:fitOldE, fy:fitYoungE, ticks:ticksE, L:87.7, R:345, B:917.7, dom:[-0.55,61.1], ytx:66.7, xtx:185, xty:941.5, xtw:130, cap:[63.3,309.3,957.5], capSize:8.7, tickSans:true, titleSans:true, titleSize:9},
 {k:"J", old:oldJ, young:youngJ, fo:fitOldJ, fy:fitYoungJ, ticks:ticksJ, L:420, R:675.3, B:919.3, dom:[-0.85,79.8], ytx:399.3, xtx:552.7, xty:941.7, xtw:98, cap:[431.7,695,959], capSize:8.5, tickSans:true, titleSans:true, titleSize:7.2}
];

const svg = d3.select("#c");

panels.forEach(p => {
  const g = svg.append("g");
  const x = d3.scaleLinear().domain(p.dom).range([p.L, p.R]);
  const y = d3.scaleLinear().domain([-1.22, 32.9]).range([p.B, p.B - 140]);

  // faint grid
  g.selectAll("line.grid").data(yTicks.slice(1)).join("line")
    .attr("x1", p.L).attr("x2", p.R).attr("y1", d => y(d)).attr("y2", d => y(d))
    .attr("stroke", "#f1f1f1").attr("stroke-width", 0.8);

  // axes
  const yAxis = d3.axisLeft(y).tickValues(yTicks).tickSize(3).tickFormat(d3.format("d"));
  const ya = g.append("g").attr("transform", `translate(${p.L},0)`).call(yAxis);
  ya.select(".domain").attr("stroke", "#6a6a6a").attr("d", `M-0,${p.B}V${p.B-140}`);
  ya.selectAll(".tick line").attr("stroke", "#6a6a6a");
  ya.selectAll(".tick text").attr("font-family", SANS).attr("font-size", 7.5).attr("fill", "#444")
    .attr("x", 0).attr("dy", 0).attr("text-anchor", "middle")
    .attr("transform", `translate(-6.3,0) rotate(-90)`);

  const xAxis = d3.axisBottom(x).tickValues(p.ticks).tickSize(3).tickFormat(d3.format("d"));
  const xa = g.append("g").attr("transform", `translate(0,${p.B})`).call(xAxis);
  xa.select(".domain").attr("stroke", "#6a6a6a").attr("d", `M${p.L},0H${p.R}`);
  xa.selectAll(".tick line").attr("stroke", "#6a6a6a");
  xa.selectAll(".tick text").attr("font-family", p.tickSans ? SANS : SERIF).attr("font-size", 7.6)
    .attr("fill", "#444").attr("y", 4).attr("dy", "0.71em");

  // y title
  g.append("text").attr("transform", `translate(${p.ytx + 2.7},${p.B - 67.5}) rotate(-90)`)
    .attr("text-anchor", "middle").attr("font-family", SANS).attr("font-size", 7.4).attr("fill", "#333")
    .text(yTitle);

  // x title
  g.append("text").attr("x", p.xtx - p.xtw / 2).attr("y", p.xty)
    .attr("font-family", p.titleSans ? SANS : SERIF).attr("font-size", p.titleSize || 7.2).attr("fill", "#333")
    .attr("textLength", p.xtw).attr("lengthAdjust", "spacingAndGlyphs")
    .text(xTitles[p.k]);

  // points: old then young
  g.append("g").selectAll("circle").data(p.old).join("circle")
    .attr("cx", d => x(d[0])).attr("cy", d => y(d[1])).attr("r", 2.45).attr("fill", C_OLD);
  g.append("g").selectAll("circle").data(p.young).join("circle")
    .attr("cx", d => x(d[0])).attr("cy", d => y(d[1])).attr("r", 2.35).attr("fill", C_YOUNG);

  // fits
  const ciLo = d3.line().curve(d3.curveNatural).x(d => x(d[0])).y(d => y(d[2]));
  const ciHi = d3.line().curve(d3.curveNatural).x(d => x(d[0])).y(d => y(d[3]));
  const fl = d3.line().x(d => x(d[0])).y(d => y(d[1]));
  [[p.fy, "#3c9a3c", "#2a7a2a"], [p.fo, "#b763b7", "#862586"]].forEach(([f, cci, cfit]) => {
    g.append("path").attr("d", ciLo(f)).attr("fill", "none").attr("stroke", cci).attr("stroke-width", 0.8).attr("stroke-dasharray", "1,1.3");
    g.append("path").attr("d", ciHi(f)).attr("fill", "none").attr("stroke", cci).attr("stroke-width", 0.8).attr("stroke-dasharray", "1,1.3");
    g.append("path").attr("d", fl([f[0], f[f.length - 1]])).attr("fill", "none").attr("stroke", cfit).attr("stroke-width", 1);
  });

  // caption
  const [c0, c1, cy] = p.cap;
  const t = g.append("text").attr("x", c0).attr("y", cy)
    .attr("font-family", p.capSans ? "'Open Sans','Liberation Sans',sans-serif" : SERIF)
    .attr("font-size", p.capSize || (p.capSans ? 8.6 : 9)).attr("fill", "#111")
    .attr("textLength", c1 - c0).attr("lengthAdjust", "spacingAndGlyphs");
  t.append("tspan").attr("font-weight", "bold").text(p.k + ".");
  t.append("tspan").text(" " + captions[p.k]);
});

// ---------------- LEGEND ----------------
const legend = [
  {x0:1.5, x1:347, group:legendGroups[0], col:C_YOUNG, ci:"#8fcf8f", fit:"#5cb85c", gx:4, dot:51.7, t1:62.7, l1:[155.7,175], t2:192.7, l2:[234,263], t3:272.7},
  {x0:357.5, x1:707.5, group:legendGroups[1], col:C_OLD, ci:"#c98fc9", fit:"#c070c0", gx:388.3, dot:419.5, t1:429, l1:[518.3,540], t2:546.7, l2:[595,634.3], t3:640}
];
const LT = 964.5, LB = 989.5, LY = 980;
legend.forEach(l => {
  const g = svg.append("g");
  g.append("rect").attr("x", l.x0).attr("y", LT).attr("width", l.x1 - l.x0).attr("height", LB - LT)
    .attr("fill", "none").attr("stroke", "#777").attr("stroke-width", 1);
  const txt = (xx, s) => g.append("text").attr("x", xx).attr("y", LY).attr("font-family", SANS)
    .attr("font-weight", "bold").attr("font-size", 10).attr("fill", "#111").text(s);
  txt(l.gx, l.group);
  g.append("circle").attr("cx", l.dot).attr("cy", LY - 3.5).attr("r", 1.6).attr("fill", l.col);
  txt(l.t1, legendLabels[0]);
  g.append("line").attr("x1", l.l1[0]).attr("x2", l.l1[1]).attr("y1", LY - 3.5).attr("y2", LY - 3.5)
    .attr("stroke", l.ci).attr("stroke-width", 1).attr("stroke-dasharray", "1,1");
  txt(l.t2, legendLabels[1]);
  g.append("line").attr("x1", l.l2[0]).attr("x2", l.l2[1]).attr("y1", LY - 3.5).attr("y2", LY - 3.5)
    .attr("stroke", l.fit).attr("stroke-width", 1.3);
  txt(l.t3, legendLabels[2]);
});
</script>
</body></html>
